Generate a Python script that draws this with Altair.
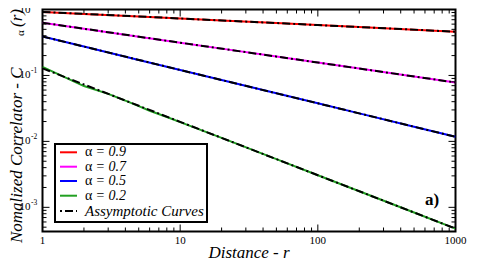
import altair as alt
import pandas as pd

# ---------------- data ----------------
series_names = ["0.9", "0.7", "0.5", "0.2"]
series_colors = ["#ff0000", "#ff00ff", "#0000ff", "#22a022"]

r_main = [1, 2, 5, 10, 20, 50, 100, 200, 500, 1000]
c_09 = [0.92, 0.858, 0.783, 0.731, 0.682, 0.622, 0.581, 0.542, 0.494, 0.461]
c_07 = [0.63, 0.511, 0.387, 0.314, 0.255, 0.193, 0.157, 0.127, 0.0965, 0.0782]
c_05 = [0.39, 0.274, 0.172, 0.121, 0.0854, 0.0537, 0.0378, 0.0266, 0.0167, 0.01174]
r_green = [1, 2, 3, 4, 5, 6, 8, 10, 20, 50, 100, 200, 500, 1000]
c_02 = [0.135, 0.069, 0.0525, 0.0415, 0.0342, 0.0292, 0.0234, 0.0196, 0.0113,
        0.00539, 0.00307, 0.00175, 0.000834, 0.000476]

r_asym = [1, 10, 100, 1000]
a_09 = [0.92, 0.731, 0.581, 0.461]
a_07 = [0.63, 0.314, 0.157, 0.0782]
a_05 = [0.39, 0.121, 0.0378, 0.01174]
a_02 = [0.128, 0.0198, 0.00307, 0.000476]

x_major = [1, 10, 100, 1000]
x_major_labels = ["1", "10", "100", "1000"]
x_minor = [2, 3, 4, 5, 6, 7, 8, 9, 20, 30, 40, 50, 60, 70, 80, 90,
           200, 300, 400, 500, 600, 700, 800, 900]
y_major = [1, 0.1, 0.01, 0.001]
y_major_exp = ["0", "-1", "-2", "-3"]
y_minor = [0.0005, 0.0006, 0.0007, 0.0008, 0.0009,
           0.002, 0.003, 0.004, 0.005, 0.006, 0.007, 0.008, 0.009,
           0.02, 0.03, 0.04, 0.05, 0.06, 0.07, 0.08, 0.09,
           0.2, 0.3, 0.4, 0.5, 0.6, 0.7, 0.8, 0.9]

legend_texts = ["= 0.9", "= 0.7", "= 0.5", "= 0.2"]
legend_asym_text = "Assymptotic Curves"

# ---------------- layout / style ----------------
W, H = 413, 222
FONT = "Liberation Serif"
x_dom = [1, 1000]
y_dom = [0.00043, 1]

xs = alt.Scale(type="log", domain=x_dom, nice=False)
ys = alt.Scale(type="log", domain=y_dom, nice=False)
cs = alt.Scale(domain=series_names, range=series_colors)

obs = pd.DataFrame(
    [{"r": r, "c": c, "s": "0.9"} for r, c in zip(r_main, c_09)]
    + [{"r": r, "c": c, "s": "0.7"} for r, c in zip(r_main, c_07)]
    + [{"r": r, "c": c, "s": "0.5"} for r, c in zip(r_main, c_05)]
    + [{"r": r, "c": c, "s": "0.2"} for r, c in zip(r_green, c_02)]
)
asym = pd.DataFrame(
    [{"r": r, "c": c, "s": "0.9"} for r, c in zip(r_asym, a_09)]
    + [{"r": r, "c": c, "s": "0.7"} for r, c in zip(r_asym, a_07)]
    + [{"r": r, "c": c, "s": "0.5"} for r, c in zip(r_asym, a_05)]
    + [{"r": r, "c": c, "s": "0.2"} for r, c in zip(r_asym, a_02)]
)

DASH = [8, 3, 2, 3]

lines = alt.Chart(obs).mark_line(strokeWidth=2, clip=True).encode(
    x=alt.X("r:Q", scale=xs, axis=None),
    y=alt.Y("c:Q", scale=ys, axis=None),
    color=alt.Color("s:N", scale=cs, legend=None),
    detail="s:N",
)
asym_lines = alt.Chart(asym).mark_line(strokeWidth=2, color="black", strokeDash=DASH, clip=True).encode(
    x=alt.X("r:Q", scale=xs, axis=None),
    y=alt.Y("c:Q", scale=ys, axis=None),
    detail="s:N",
)

xmaj = pd.DataFrame({"v": x_major, "lab": x_major_labels})
xmin = pd.DataFrame({"v": x_minor})
ymaj = pd.DataFrame({"v": y_major, "e": y_major_exp})
ymin = pd.DataFrame({"v": y_minor})

def xticks(df, length):
    b = alt.Chart(df).mark_rule(color="black", strokeWidth=1).encode(
        x=alt.X("v:Q", scale=xs, axis=None), y=alt.value(H), y2=alt.value(H - length))
    t = alt.Chart(df).mark_rule(color="black", strokeWidth=1).encode(
        x=alt.X("v:Q", scale=xs, axis=None), y=alt.value(0), y2=alt.value(length))
    return [b, t]

def yticks(df, length):
    l = alt.Chart(df).mark_rule(color="black", strokeWidth=1).encode(
        y=alt.Y("v:Q", scale=ys, axis=None), x=alt.value(0), x2=alt.value(length))
    r = alt.Chart(df).mark_rule(color="black", strokeWidth=1).encode(
        y=alt.Y("v:Q", scale=ys, axis=None), x=alt.value(W), x2=alt.value(W - length))
    return [l, r]

ticks = xticks(xmaj, 7) + xticks(xmin, 4) + yticks(ymaj, 7) + yticks(ymin, 4)

xlabels = alt.Chart(xmaj).mark_text(font=FONT, fontSize=11, baseline="middle", align="center").encode(
    x=alt.X("v:Q", scale=xs, axis=None), y=alt.value(H + 9), text="lab:N")
ylabels = alt.Chart(ymaj).mark_text(font=FONT, fontSize=11, baseline="middle", align="right").encode(
    y=alt.Y("v:Q", scale=ys, axis=None), x=alt.value(-12), text=alt.value("10"))
yexp = alt.Chart(ymaj).mark_text(font=FONT, fontSize=7.5, baseline="middle", align="left", dy=-4).encode(
    y=alt.Y("v:Q", scale=ys, axis=None), x=alt.value(-11.5), text="e:N")

def label(txt, x, y, **kw):
    return alt.Chart(pd.DataFrame({"t": [txt]})).mark_text(font=FONT, **kw).encode(
        x=alt.value(x), y=alt.value(y), text="t:N")

xtitle = label("Distance - r", W / 2, 243, fontSize=17, fontStyle="italic", align="center", baseline="middle")
yt1 = label("Nomalized Correlator - C", -26, 233.5, fontSize=17, fontStyle="italic",
            angle=270, align="left", baseline="middle")
yt2 = label("α", -21.5, 26.5, fontSize=11, angle=270, align="left", baseline="middle")
yt3 = label("(r)", -26, 17.5, fontSize=17, fontStyle="italic", angle=270, align="left", baseline="middle")
panel = label("a)", 382.5, 190.5, fontSize=17, fontWeight="bold", align="left", baseline="middle")

# legend
box = alt.Chart(pd.DataFrame({"t": [0]})).mark_rect(fill="white", stroke="black", strokeWidth=2).encode(
    x=alt.value(12.5), x2=alt.value(164.5), y=alt.value(134.5), y2=alt.value(212.5))
row_y = [142.8, 157.2, 171.5, 186.2]
leg = pd.DataFrame({"s": series_names, "t": legend_texts, "py": row_y})
leg_lines = alt.Chart(leg).mark_rule(strokeWidth=2).encode(
    x=alt.value(17.5), x2=alt.value(34.5), y=alt.Y("py:Q", scale=None),
    color=alt.Color("s:N", scale=cs, legend=None))
leg_alpha = alt.Chart(leg).mark_text(font=FONT, fontSize=14, align="left", baseline="middle").encode(
    x=alt.value(42.5), y=alt.Y("py:Q", scale=None), text=alt.value("α"))
leg_txt = alt.Chart(leg).mark_text(font=FONT, fontSize=14, fontStyle="italic", align="left", baseline="middle").encode(
    x=alt.value(53), y=alt.Y("py:Q", scale=None), text="t:N")
leg_asym_line = alt.Chart(pd.DataFrame({"t": [0]})).mark_rule(
    strokeWidth=2, color="black", strokeDash=DASH, strokeDashOffset=11).encode(
    x=alt.value(17.5), x2=alt.value(34.5), y=alt.value(201.5))
leg_asym_txt = label(legend_asym_text, 42.5, 201.5, fontSize=15, fontStyle="italic", align="left", baseline="middle")

chart = alt.layer(
    lines, asym_lines, *ticks, xlabels, ylabels, yexp, xtitle, yt1, yt2, yt3, panel,
    box, leg_lines, leg_alpha, leg_txt, leg_asym_line, leg_asym_txt,
).properties(
    width=W, height=H,
    autosize=alt.AutoSizeParams(type="none"),
    padding={"left": 34.5, "top": 1.5, "right": 19.5, "bottom": 30},
).configure_view(stroke="black", strokeWidth=2).resolve_scale(color="shared")

chart.save("out.html", embed_options={"renderer": "svg", "actions": False})
